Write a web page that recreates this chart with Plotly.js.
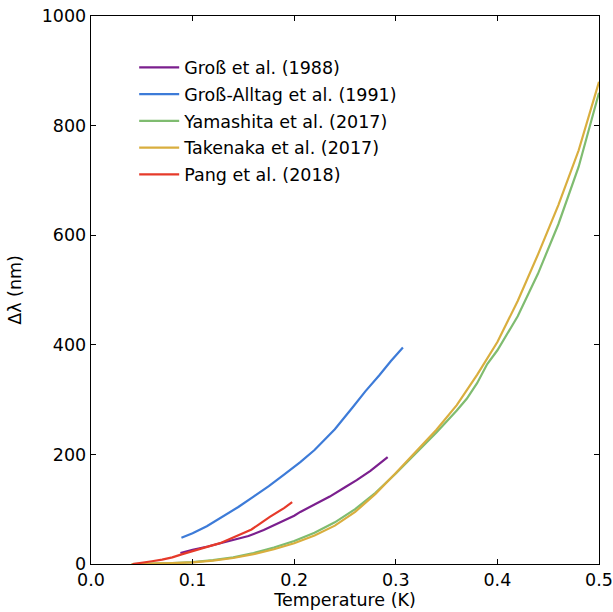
<!DOCTYPE html>
<html>
<head>
<meta charset="utf-8">
<script src="https://cdn.plot.ly/plotly-3.0.1.min.js"></script>
<style>html,body{margin:0;padding:0;background:#fff;}#chart{width:613px;height:612px;}</style>
</head>
<body>
<div id="chart"></div>
<script>
// Groß et al. (1988)
var gross1988T = [0.088,0.10,0.115,0.127,0.14,0.155,0.17,0.186,0.20,0.206,0.22,0.235,0.25,0.2615,0.275,0.292];
var gross1988V = [20,26,32,38,44,51,62,76,88,95,108,123,140,153,170,195];
// Groß-Alltag et al. (1991)
var grossAlltagT = [0.089,0.10,0.114,0.13,0.145,0.16,0.175,0.19,0.206,0.22,0.24,0.258,0.27,0.284,0.295,0.307];
var grossAlltagV = [48,56,69,87,104,123,142,163,186,208,246,287,315,345,370,395];
// Yamashita et al. (2017)
var yamashitaT = [0.04,0.06,0.08,0.10,0.12,0.14,0.16,0.18,0.20,0.22,0.24,0.26,0.28,0.30,0.32,0.34,0.36,0.37,0.38,0.39,0.40,0.41,0.42,0.44,0.46,0.48,0.50];
var yamashitaV = [0,0.5,1.5,3.5,7,12,20,30,42,57,76,100,130,165,203,240,280,302,330,365,390,420,452,530,620,725,860];
// Takenaka et al. (2017)
var takenakaT = [0.04,0.06,0.08,0.10,0.12,0.14,0.16,0.18,0.20,0.22,0.24,0.26,0.28,0.30,0.32,0.34,0.36,0.38,0.40,0.42,0.44,0.46,0.48,0.50];
var takenakaV = [0,0.5,1.5,3,6,11,18,27,38,52,70,95,128,166,205,245,290,345,405,480,565,655,755,880];
// Pang et al. (2018)
var pangT = [0.041,0.05,0.06,0.07,0.08,0.09,0.10,0.11,0.127,0.14,0.158,0.165,0.176,0.19,0.198];
var pangV = [0,2,5,8,12,18,24,29,38,48,63,72,86,102,113];

var names = ['Groß et al. (1988)','Groß-Alltag et al. (1991)','Yamashita et al. (2017)','Takenaka et al. (2017)','Pang et al. (2018)'];
var colors = ['#7b1f8e','#3d7bd8','#7fbc70','#d9ae3e','#e63a2a'];
var xs = [gross1988T, grossAlltagT, yamashitaT, takenakaT, pangT];
var ys = [gross1988V, grossAlltagV, yamashitaV, takenakaV, pangV];

var traces = names.map(function(n,i){
  return {x: xs[i], y: ys[i], type:'scatter', mode:'lines', name:n, legendgroup:'g'+i,
          line:{color:colors[i], width:2.2}};
});

var FS = 17.5;
var axisCommon = {
  showline:true, linecolor:'#000', linewidth:1.3, mirror:'allticks',
  ticks:'inside', ticklen:5, tickwidth:1.2, tickcolor:'#000',
  showgrid:false, zeroline:false,
  tickfont:{family:'DejaVu Sans', size:FS, color:'#000'}
};

var layout = {
  width:613, height:612,
  margin:{l:91, r:14, t:16, b:48},
  paper_bgcolor:'#fff', plot_bgcolor:'#fff',
  font:{family:'DejaVu Sans', size:FS, color:'#000'},
  xaxis: Object.assign({}, axisCommon, {
    range:[0,0.5], tickvals:[0,0.1,0.2,0.3,0.4,0.5], ticktext:['0.0','0.1','0.2','0.3','0.4','0.5'],
    title:{text:'Temperature (K)', font:{family:'DejaVu Sans', size:FS}, standoff:3}
  }),
  yaxis: Object.assign({}, axisCommon, {
    range:[0,1000], tickvals:[0,200,400,600,800,1000],
    title:{text:'Δλ (nm)', font:{family:'DejaVu Sans', size:FS}, standoff:15}
  }),
  showlegend:true,
  legend:{x:0.085, y:0.939, xanchor:'left', yanchor:'top', bgcolor:'rgba(0,0,0,0)',
          borderwidth:0, traceorder:'grouped', tracegroupgap:1, itemwidth:40,
          font:{family:'DejaVu Sans', size:FS, color:'#000'}}
};

Plotly.newPlot('chart', traces, layout, {displayModeBar:false, staticPlot:true});
</script>
</body>
</html>
